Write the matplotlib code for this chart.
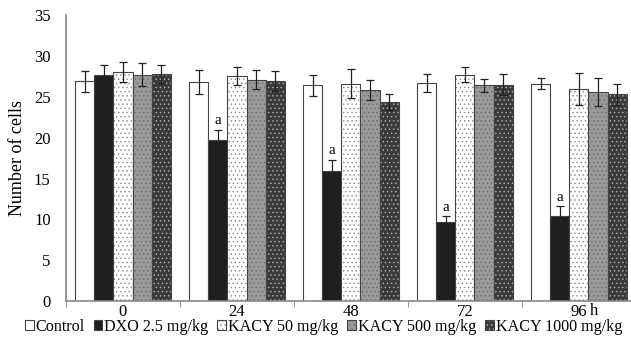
import matplotlib.pyplot as plt
import matplotlib.colors as mcolors
import numpy as np

# data
groups = ['0', '24', '48', '72', '96']
series = ['Control', 'DXO 2.5 mg/kg', 'KACY 50 mg/kg', 'KACY 500 mg/kg', 'KACY 1000 mg/kg']
control = [26.9, 26.8, 26.4, 26.7, 26.6]
dxo = [27.7, 19.7, 15.9, 9.7, 10.4]
kacy50 = [28.0, 27.6, 26.6, 27.7, 26.0]
kacy500 = [27.7, 27.1, 25.8, 26.4, 25.6]
kacy1000 = [27.8, 26.9, 24.4, 26.5, 25.3]
err_control = [1.3, 1.5, 1.3, 1.1, 0.7]
err_dxo = [1.2, 1.3, 1.4, 0.7, 1.2]
err_kacy50 = [1.2, 1.1, 1.8, 0.9, 1.95]
err_kacy500 = [1.4, 1.2, 1.2, 0.8, 1.7]
err_kacy1000 = [1.1, 1.2, 1.0, 1.3, 1.3]

values = [control, dxo, kacy50, kacy500, kacy1000]
errors = [err_control, err_dxo, err_kacy50, err_kacy500, err_kacy1000]

# styles
faces = ['white', '#1e1e1e', 'white', '#9a9a9a', '#3a3a3a']
hatches = ['', '', '....', '....', '....']
hatch_cols = ['#444444', '#1e1e1e', '#8a8a8a', '#6a6a6a', '#b0b0b0']

plt.rcParams['font.family'] = ['Liberation Serif', 'DejaVu Serif']
plt.rcParams['hatch.linewidth'] = 0.5

fig = plt.figure(figsize=(6.31, 3.51), dpi=100)
ax = fig.add_axes([0.1046, 0.142, 0.903, 0.815])

x = np.arange(len(groups))
w = 0.168
for i in range(len(series)):
    pos = x + (i - 2) * w
    bars = ax.bar(pos, values[i], w, color=faces[i], edgecolor='#444444',
                  linewidth=0.8, hatch=hatches[i], label=series[i])
    for b in bars:
        b._hatch_color = mcolors.to_rgba(hatch_cols[i])
    ax.errorbar(pos, values[i], yerr=errors[i], fmt='none', ecolor='#222222',
                elinewidth=0.9, capsize=3, capthick=0.9)

# significance letters
for j in range(1, len(groups)):
    ax.text(x[j] - w, dxo[j] + err_dxo[j] + 0.3, 'a', ha='center', va='bottom', fontsize=11)

ax.set_xlim(-0.5, len(groups) - 0.5)
ax.set_ylim(0, 35)
ax.set_yticks(range(0, 36, 5))
ax.set_xticks(x)
ax.set_xticklabels(groups, fontsize=12)
ax.tick_params(axis='y', length=0, labelsize=12, pad=11)
ax.tick_params(axis='x', length=0, pad=2)
ax.set_xticks(np.arange(-0.5, len(groups), 1), minor=True)
ax.tick_params(axis='x', which='minor', length=4, color='#888888')
ax.set_ylabel('Number of cells', fontsize=13, labelpad=6)
for s in ['top', 'right']:
    ax.spines[s].set_visible(False)
for s in ['left', 'bottom']:
    ax.spines[s].set_color('#888888')
    ax.spines[s].set_linewidth(1.2)

ax.text(4.1, -0.25, 'h', fontsize=12, ha='left', va='top')

ax.legend(loc='upper center', bbox_to_anchor=(0.452, -0.062), ncol=5, frameon=False,
          fontsize=11.6, handlelength=0.55, handleheight=0.55, handletextpad=0.12,
          columnspacing=0.55, borderaxespad=0, borderpad=0)

fig.savefig('out.png', dpi=100)
